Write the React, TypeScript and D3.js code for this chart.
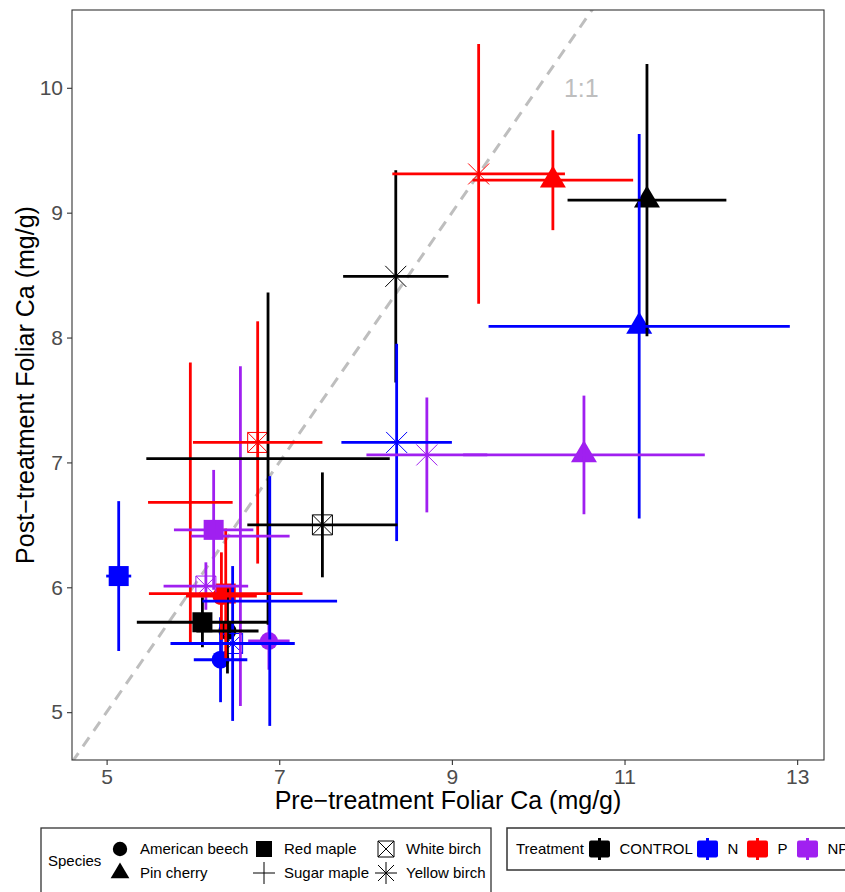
import React, { useEffect, useRef } from "react";
import * as d3 from "d3";

// ---- data ----
const speciesNames = ["American beech", "Pin cherry", "Red maple", "Sugar maple", "White birch", "Yellow birch"];
const speciesShapes = ["circle", "triangle", "square", "plus", "boxX", "asterisk"];
const treatmentNames = ["CONTROL", "N", "P", "NP"];
const treatmentColors = ["#000000", "#0000FF", "#FF0000", "#A020F0"];

const pointSpecies = [
  "American beech", "American beech", "American beech", "American beech",
  "Pin cherry", "Pin cherry", "Pin cherry", "Pin cherry",
  "Red maple", "Red maple", "Red maple", "Red maple",
  "Sugar maple", "Sugar maple", "Sugar maple", "Sugar maple",
  "White birch", "White birch", "White birch", "White birch",
  "Yellow birch", "Yellow birch", "Yellow birch", "Yellow birch",
];
const pointTreatment = [
  "CONTROL", "N", "P", "NP", "CONTROL", "N", "P", "NP",
  "CONTROL", "N", "P", "NP", "CONTROL", "N", "P", "NP",
  "CONTROL", "N", "P", "NP", "CONTROL", "N", "P", "NP",
];
const preMean = [
  6.40, 6.32, 6.33, 6.88,
  11.26, 11.17, 10.17, 10.53,
  6.11, 5.14, 6.38, 6.24,
  6.87, 6.89, 5.97, 6.55,
  7.50, 6.46, 6.75, 6.15,
  8.35, 8.36, 9.31, 8.71,
];
const preSE = [
  0.36, 0.31, 0.41, 0.24,
  0.92, 1.745, 0.93, 1.40,
  0.76, 0.145, 0.89, 0.46,
  1.41, 0.78, 0.49, 0.57,
  0.87, 0.72, 0.75, 0.49,
  0.61, 0.64, 1.00, 0.70,
];
const postMean = [
  5.65, 5.42, 5.93, 5.57,
  9.10, 8.09, 9.26, 7.06,
  5.72, 6.09, 5.95, 6.46,
  7.03, 5.89, 6.68, 6.41,
  6.50, 5.55, 7.16, 6.01,
  8.49, 7.16, 9.31, 7.06,
];
const postSE = [
  0.34, 0.34, 0.35, 0.23,
  1.09, 1.54, 0.40, 0.475,
  0.20, 0.60, 0.52, 0.48,
  1.33, 1.00, 1.12, 1.36,
  0.42, 0.62, 0.97, 0.19,
  0.85, 0.79, 1.04, 0.46,
];

const xTicks = [5, 7, 9, 11, 13];
const yTicks = [5, 6, 7, 8, 9, 10];

const FONT = "'Liberation Sans', Arial, Helvetica, sans-serif";

type Sel = d3.Selection<SVGGElement, unknown, null, undefined>;

function drawShape(g: Sel, shape: string, cx: number, cy: number, color: string, legend: boolean) {
  const k = legend ? 0.8 : 1;
  if (shape === "circle") {
    g.append("circle").attr("cx", cx).attr("cy", cy).attr("r", 9 * k).attr("fill", color);
  } else if (shape === "triangle") {
    const w = 26 * k * (legend ? 0.9 : 1), h = 22 * k * (legend ? 0.9 : 1);
    g.append("path")
      .attr("d", `M${cx},${cy - (2 * h) / 3}L${cx + w / 2},${cy + h / 3}L${cx - w / 2},${cy + h / 3}Z`)
      .attr("fill", color);
  } else if (shape === "square") {
    const s = 20 * k;
    g.append("rect").attr("x", cx - s / 2).attr("y", cy - s / 2).attr("width", s).attr("height", s).attr("fill", color);
  } else if (shape === "plus") {
    const a = 11;
    g.append("path").attr("d", `M${cx - a},${cy}H${cx + a}M${cx},${cy - a}V${cy + a}`)
      .attr("stroke", color).attr("stroke-width", 1).attr("fill", "none");
  } else if (shape === "boxX") {
    const s = legend ? 16 : 20;
    const h = s / 2;
    g.append("path")
      .attr("d", `M${cx - h},${cy - h}H${cx + h}V${cy + h}H${cx - h}ZM${cx - h},${cy - h}L${cx + h},${cy + h}M${cx + h},${cy - h}L${cx - h},${cy + h}`)
      .attr("stroke", color).attr("stroke-width", 1).attr("fill", "none");
  } else if (shape === "asterisk") {
    const a = legend ? 11 : 14;
    const b = legend ? 8 : 10.5;
    g.append("path")
      .attr("d", `M${cx - a},${cy}H${cx + a}M${cx},${cy - a}V${cy + a}M${cx - b},${cy - b}L${cx + b},${cy + b}M${cx + b},${cy - b}L${cx - b},${cy + b}`)
      .attr("stroke", color).attr("stroke-width", 1).attr("fill", "none");
  }
}

export default function App() {
  const ref = useRef<SVGSVGElement>(null);

  useEffect(() => {
    const svg = d3.select(ref.current);
    svg.selectAll("*").remove();
    const root = svg.append("g") as unknown as Sel;

    const L = 72, R = 824, T = 10, B = 760;
    const n = preMean.length;
    const idx = d3.range(n);
    const xMin = d3.min(idx, (i) => preMean[i] - preSE[i])!;
    const xMax = d3.max(idx, (i) => preMean[i] + preSE[i])!;
    const yMin = d3.min(idx, (i) => postMean[i] - postSE[i])!;
    const yMax = d3.max(idx, (i) => postMean[i] + postSE[i])!;
    const xr = xMax - xMin, yr = yMax - yMin;
    const x = d3.scaleLinear().domain([xMin - 0.05 * xr, xMax + 0.05 * xr]).range([L, R]);
    const y = d3.scaleLinear().domain([yMin - 0.05 * yr, yMax + 0.05 * yr]).range([B, T]);

    const colorOf = d3.scaleOrdinal<string, string>().domain(treatmentNames).range(treatmentColors);
    const shapeOf = d3.scaleOrdinal<string, string>().domain(speciesNames).range(speciesShapes);

    root.append("rect").attr("x", 0).attr("y", 0).attr("width", 845).attr("height", 892).attr("fill", "#fff");

    svg.append("defs").append("clipPath").attr("id", "panelClip")
      .append("rect").attr("x", L).attr("y", T).attr("width", R - L).attr("height", B - T);

    const panel = root.append("g").attr("clip-path", "url(#panelClip)") as unknown as Sel;

    // 1:1 line
    const [d0, d1] = x.domain();
    panel.append("line")
      .attr("x1", x(d0 - 1)).attr("y1", y(d0 - 1))
      .attr("x2", x(d1 + 1)).attr("y2", y(d1 + 1))
      .attr("stroke", "#BEBEBE").attr("stroke-width", 3).attr("stroke-dasharray", "11,8");

    panel.append("text").attr("x", x(10.5)).attr("y", y(10)).attr("dy", "0.35em")
      .attr("text-anchor", "middle").attr("font-family", FONT).attr("font-size", 25)
      .attr("fill", "#BEBEBE").text("1:1");

    // points
    idx.forEach((i) => {
      drawShape(panel, shapeOf(pointSpecies[i]), x(preMean[i]), y(postMean[i]), colorOf(pointTreatment[i]), false);
    });

    // vertical error bars
    panel.selectAll("line.ev").data(idx).enter().append("line").attr("class", "ev")
      .attr("x1", (i) => x(preMean[i])).attr("x2", (i) => x(preMean[i]))
      .attr("y1", (i) => y(postMean[i] - postSE[i])).attr("y2", (i) => y(postMean[i] + postSE[i]))
      .attr("stroke", (i) => colorOf(pointTreatment[i])).attr("stroke-width", 2.8);

    // horizontal error bars
    panel.selectAll("line.eh").data(idx).enter().append("line").attr("class", "eh")
      .attr("y1", (i) => y(postMean[i])).attr("y2", (i) => y(postMean[i]))
      .attr("x1", (i) => x(preMean[i] - preSE[i])).attr("x2", (i) => x(preMean[i] + preSE[i]))
      .attr("stroke", (i) => colorOf(pointTreatment[i])).attr("stroke-width", 2.8);

    // panel border
    root.append("rect").attr("x", L).attr("y", T).attr("width", R - L).attr("height", B - T)
      .attr("fill", "none").attr("stroke", "#333333").attr("stroke-width", 1.1);

    // axes
    const xAxis = root.append("g").attr("transform", `translate(0,${B})`)
      .call(d3.axisBottom(x).tickValues(xTicks).tickSize(5).tickPadding(4).tickFormat(d3.format("d")) as any);
    const yAxis = root.append("g").attr("transform", `translate(${L},0)`)
      .call(d3.axisLeft(y).tickValues(yTicks).tickSize(5).tickPadding(4).tickFormat(d3.format("d")) as any);
    [xAxis, yAxis].forEach((a) => {
      a.select(".domain").remove();
      a.selectAll("line").attr("stroke", "#333333").attr("stroke-width", 1.1);
      a.selectAll("text").attr("font-family", FONT).attr("font-size", 21).attr("fill", "#4D4D4D");
    });

    root.append("text").attr("x", (L + R) / 2).attr("y", 809).attr("text-anchor", "middle")
      .attr("font-family", FONT).attr("font-size", 25).attr("fill", "#000")
      .text("Pre\u2212treatment Foliar Ca (mg/g)");
    root.append("text").attr("transform", `translate(34,${(T + B) / 2}) rotate(-90)`).attr("text-anchor", "middle")
      .attr("font-family", FONT).attr("font-size", 25).attr("fill", "#000")
      .text("Post\u2212treatment Foliar Ca (mg/g)");

    // ---- species legend ----
    const lg = root.append("g") as unknown as Sel;
    lg.append("rect").attr("x", 41).attr("y", 828).attr("width", 450).attr("height", 80)
      .attr("fill", "#fff").attr("stroke", "#333333").attr("stroke-width", 1.3);
    lg.append("text").attr("x", 48).attr("y", 861).attr("dy", "0.35em").attr("font-family", FONT)
      .attr("font-size", 15).text("Species");
    const colKeyX = [120, 264, 386];
    const rowY = [849, 873];
    speciesNames.forEach((s, i) => {
      const col = Math.floor(i / 2), row = i % 2;
      const kx = colKeyX[col], ky = rowY[row];
      drawShape(lg, speciesShapes[i], kx, ky, "#000", true);
      lg.append("text").attr("x", kx + 20).attr("y", ky).attr("dy", "0.35em")
        .attr("font-family", FONT).attr("font-size", 15).text(s);
    });

    // ---- treatment legend ----
    const tg = root.append("g") as unknown as Sel;
    tg.append("rect").attr("x", 507).attr("y", 828).attr("width", 360).attr("height", 42)
      .attr("fill", "#fff").attr("stroke", "#333333").attr("stroke-width", 1.5);
    tg.append("text").attr("x", 516).attr("y", 849).attr("dy", "0.35em").attr("font-family", FONT)
      .attr("font-size", 15).text("Treatment");
    const keyX = [599.5, 707.5, 757.5, 807.5];
    treatmentNames.forEach((t, i) => {
      const cx = keyX[i];
      tg.append("rect").attr("x", cx - 10.5).attr("y", 849 - 8.5).attr("width", 21).attr("height", 17)
        .attr("rx", 2).attr("fill", treatmentColors[i]);
      tg.append("line").attr("x1", cx).attr("x2", cx).attr("y1", 838).attr("y2", 860)
        .attr("stroke", treatmentColors[i]).attr("stroke-width", 3);
      tg.append("text").attr("x", cx + 20).attr("y", 849).attr("dy", "0.35em").attr("font-family", FONT)
        .attr("font-size", 15).text(t);
    });
  }, []);

  return (
    <svg ref={ref} width={845} height={892}
      style={{ position: "absolute", left: 0, top: 0, display: "block" }} />
  );
}
